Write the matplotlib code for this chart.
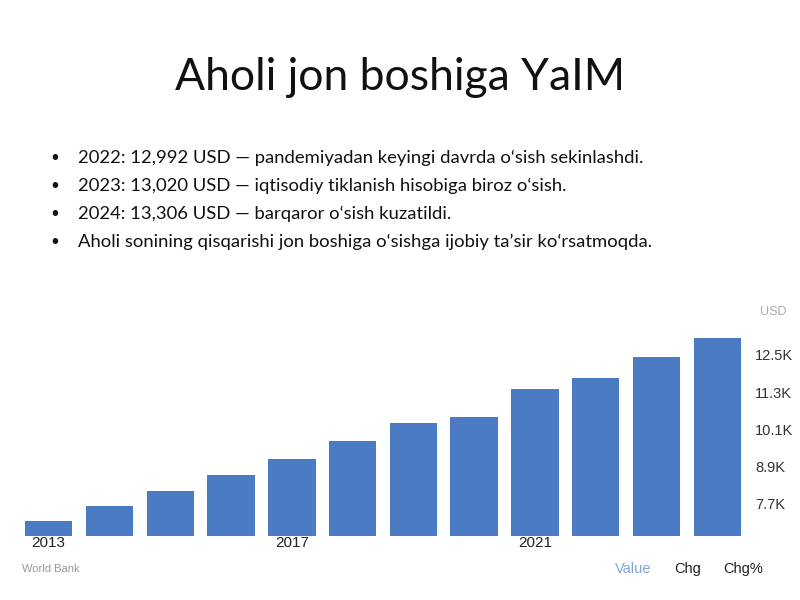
import matplotlib
matplotlib.use("Agg")
import matplotlib.pyplot as plt

years = [2013, 2014, 2015, 2016, 2017, 2018, 2019, 2020, 2021, 2022, 2023, 2024]
gdp_k = [7.14, 7.61, 8.11, 8.61, 9.13, 9.71, 10.29, 10.49, 11.40, 11.76, 12.42, 13.05]
tick_vals = [7.7, 8.9, 10.1, 11.3, 12.5]
year_labels = ["2013", "2017", "2021"]

title = "Aholi jon boshiga YaIM"
bullets = [
    "2022: 12,992 USD \u2014 pandemiyadan keyingi davrda o\u2018sish sekinlashdi.",
    "2023: 13,020 USD \u2014 iqtisodiy tiklanish hisobiga biroz o\u2018sish.",
    "2024: 13,306 USD \u2014 barqaror o\u2018sish kuzatildi.",
    "Aholi sonining qisqarishi jon boshiga o\u2018sishga ijobiy ta\u2019sir ko\u2018rsatmoqda.",
]

slide_font = ["Lato", "DejaVu Sans"]
chart_font = ["Liberation Sans", "DejaVu Sans"]

fig = plt.figure(figsize=(8, 6), dpi=100)
fig.patch.set_facecolor("white")

fig.text(0.5, 1 - 78 / 600, title, ha="center", va="center",
         fontsize=32, family=slide_font, color="#111111")

for i, line in enumerate(bullets):
    y = 1 - (158 + i * 28) / 600
    fig.text(50 / 800, y, "\u2022", ha="left", va="center", fontsize=11,
             family=slide_font, color="#111111")
    fig.text(78 / 800, y, line, ha="left", va="center", fontsize=13.3,
             family=slide_font, color="#111111")

# bar chart (looks like a pasted screenshot)
ax = fig.add_axes([25 / 800, 1 - 535.7 / 600, 716 / 800, 205.7 / 600])
x = list(range(len(years)))
ax.bar(x, gdp_k, width=0.78, bottom=0, color="#4b7bc3",
       edgecolor="none")
ax.set_xlim(-0.39, 11.39)
ax.set_ylim(6.65, 6.65 + 205.7 / 30.9)
for s in ax.spines.values():
    s.set_visible(False)

ax.yaxis.tick_right()
ax.set_yticks(tick_vals)
ax.set_yticklabels([f"{v}K" for v in tick_vals], family=chart_font,
                   fontsize=10.5, color="#333333")
ax.tick_params(axis="y", length=0, pad=10)
ax.set_xticks([years.index(int(y)) for y in year_labels])
ax.set_xticklabels(year_labels, family=chart_font, fontsize=11,
                   color="#222222")
ax.tick_params(axis="x", length=0, pad=0)

fig.text(773 / 800, 1 - 312 / 600, "USD", ha="center", va="center",
         fontsize=9, family=chart_font, color="#aaaaaa")
fig.text(22 / 800, 1 - 569 / 600, "World Bank", ha="left", va="center",
         fontsize=8, family=chart_font, color="#999999")
fig.text(633 / 800, 1 - 569 / 600, "Value", ha="center", va="center",
         fontsize=10.5, family=chart_font, color="#7fa6d6")
fig.text(688 / 800, 1 - 569 / 600, "Chg", ha="center", va="center",
         fontsize=10.5, family=chart_font, color="#222222")
fig.text(743 / 800, 1 - 569 / 600, "Chg%", ha="center", va="center",
         fontsize=10.5, family=chart_font, color="#222222")

fig.savefig("out.png", dpi=100)
